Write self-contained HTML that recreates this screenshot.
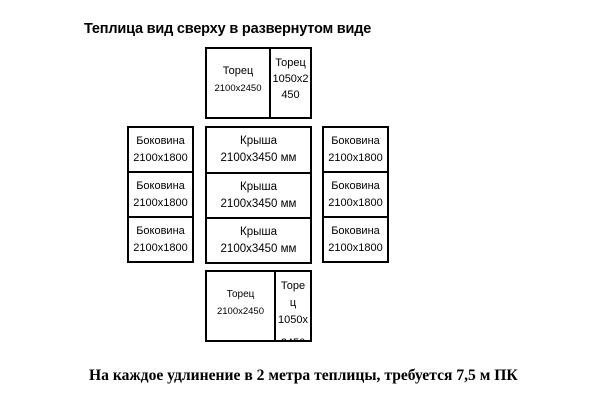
<html><head><style>
body{margin:0;width:600px;height:404px;background:#fff;position:relative;font-family:"Liberation Sans","DejaVu Sans",sans-serif;overflow:hidden}
.b{position:absolute;border:2px solid #000;box-sizing:border-box;text-align:center;font-size:11px;line-height:17px;overflow:hidden;background:#fff}
.s{font-size:9.5px}
.t{position:absolute;white-space:nowrap}
</style></head><body>
<div class="t" style="left:84px;top:21px;font-weight:bold;font-size:14.5px;letter-spacing:-0.2px">Теплица вид сверху в развернутом виде</div>

<div class="b" style="left:205px;top:47px;width:66px;height:72px;padding-top:14px"><span>Торец</span><br><span class="s">2100x2450</span></div>
<div class="b" style="left:269px;top:47px;width:43px;height:72px;padding-top:6px;line-height:16px">Торец<br>1050x2<br>450</div>

<div class="b" style="left:127px;top:126px;width:67px;height:47px;padding-top:5px">Боковина<br>2100x1800</div>
<div class="b" style="left:127px;top:171px;width:67px;height:47px;padding-top:5px">Боковина<br>2100x1800</div>
<div class="b" style="left:127px;top:216px;width:67px;height:47px;padding-top:5px">Боковина<br>2100x1800</div>

<div class="b" style="left:205px;top:126px;width:107px;height:48px;padding-top:5px;font-size:11.5px">Крыша<br>2100x3450 мм</div>
<div class="b" style="left:205px;top:172px;width:107px;height:47px;padding-top:5px;font-size:11.5px">Крыша<br>2100x3450 мм</div>
<div class="b" style="left:205px;top:217px;width:107px;height:47px;padding-top:5px;font-size:11.5px">Крыша<br>2100x3450 мм</div>

<div class="b" style="left:322px;top:126px;width:67px;height:47px;padding-top:5px">Боковина<br>2100x1800</div>
<div class="b" style="left:322px;top:171px;width:67px;height:47px;padding-top:5px">Боковина<br>2100x1800</div>
<div class="b" style="left:322px;top:216px;width:67px;height:47px;padding-top:5px">Боковина<br>2100x1800</div>

<div class="b" style="left:205px;top:270px;width:71px;height:72px;padding-top:14px"><span style="font-size:10px">Торец</span><br><span class="s">2100x2450</span></div>
<div class="b" style="left:274px;top:270px;width:38px;height:72px;padding-top:6px;line-height:17px">Торе<br>ц<br>1050x<br><span style="position:relative;top:6px">2450</span></div>

<div class="t" style="left:89px;top:367px;font-family:'Liberation Serif',serif;font-weight:bold;font-size:15.6px">На каждое удлинение в 2 метра теплицы, требуется 7,5 м ПК</div>
</body></html>
